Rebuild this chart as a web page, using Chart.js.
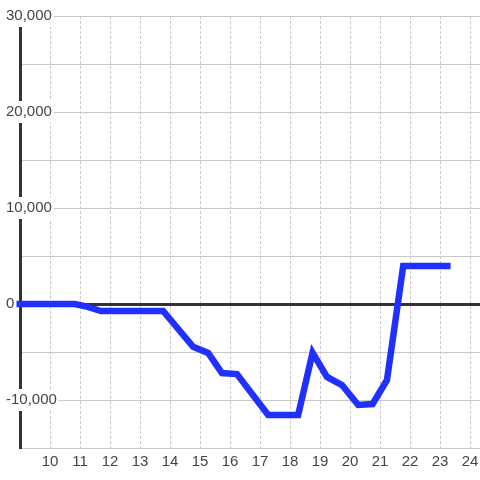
<!DOCTYPE html>
<html>
<head>
<meta charset="utf-8">
<script src="https://cdn.jsdelivr.net/npm/chart.js@4.4.1/dist/chart.umd.min.js"></script>
<style>
  html, body { margin: 0; padding: 0; background: #fff; }
  #wrap { width: 480px; height: 480px; }
</style>
</head>
<body>
<div id="wrap"><canvas id="chart" width="480" height="480"></canvas></div>
<script>
// values (hour of day vs running total)
const hours  = [8.75, 10.83, 11.23, 11.7, 13.77, 14.77, 15.27, 15.73, 16.23, 17.27, 18.27, 18.75, 19.23, 19.73, 20.27, 20.75, 21.23, 21.77, 23.35];
const totals = [0, 0, -280, -730, -730, -4450, -5100, -7190, -7300, -11560, -11560, -5070, -7600, -8440, -10520, -10420, -7920, 3950, 3950];

const xTicks = [10, 11, 12, 13, 14, 15, 16, 17, 18, 19, 20, 21, 22, 23, 24];
const yTicks = [-15000, -10000, -5000, 0, 5000, 10000, 15000, 20000, 25000, 30000];

const fontFamily = '"Liberation Sans", Arial, sans-serif';
const labelled = v => v % 10000 === 0;

new Chart(document.getElementById('chart'), {
    type: 'line',
    data: {
        datasets: [{
            data: hours.map((h, i) => ({ x: h, y: totals[i] })),
            borderColor: '#2030ff',
            borderWidth: 6.5,
            pointRadius: 0,
            tension: 0,
            fill: false,
            clip: 3.5
        }]
    },
    options: {
        responsive: false,
        animation: false,
        layout: { padding: { left: 20, top: 16, right: 0, bottom: 5 } },
        plugins: { legend: { display: false }, tooltip: { enabled: false } },
        scales: {
            x: {
                type: 'linear',
                min: 9,
                max: 24.33,
                afterBuildTicks: s => { s.ticks = xTicks.map(v => ({ value: v })); },
                afterFit: s => { s.paddingLeft = 0; s.paddingRight = 0; },
                grid: { color: '#c8c8c8', lineWidth: 1, drawTicks: false },
                border: { display: false, dash: [3, 2] },
                ticks: {
                    padding: 4.5,
                    color: '#444',
                    font: { family: fontFamily, size: 15 },
                    maxRotation: 0,
                    autoSkip: false
                }
            },
            y: {
                min: -15000,
                max: 30000,
                afterBuildTicks: s => { s.ticks = yTicks.map(v => ({ value: v })); },
                // labels sit over the axis line, so the axis takes no room
                afterFit: s => { s.width = 0; },
                grid: {
                    drawTicks: false,
                    color: ctx => ctx.tick && ctx.tick.value === 0 ? '#333' : '#c8c8c8',
                    lineWidth: ctx => ctx.tick && ctx.tick.value === 0 ? 3 : 1
                },
                border: { display: true, color: '#333', width: 3 },
                ticks: {
                    mirror: true,
                    padding: -14,
                    color: '#444',
                    font: { family: fontFamily, size: 15 },
                    callback: v => labelled(v) ? v.toLocaleString('en-US') : '',
                    showLabelBackdrop: ctx => labelled(ctx.tick.value),
                    backdropColor: '#fff',
                    backdropPadding: 2
                }
            }
        }
    }
});
</script>
</body>
</html>
